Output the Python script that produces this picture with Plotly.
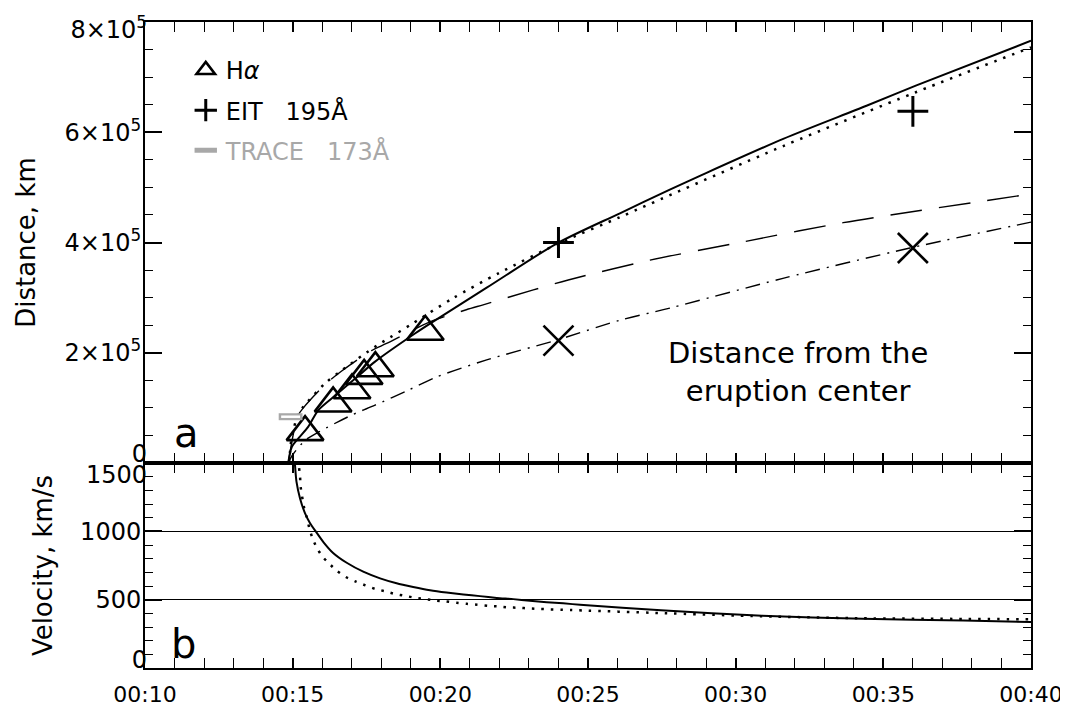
import plotly.graph_objects as go

# ---------------- data (time in minutes after 00:00 UT) ----------------
x_tick_vals = [10, 15, 20, 25, 30, 35, 40]
x_tick_text = ["00:10", "00:15", "00:20", "00:25", "00:30", "00:35", "00:40"]

d_tick_vals = [0, 2e5, 4e5, 6e5, 8e5]
d_tick_text = ["0", "2×10<sup>5</sup>", "4×10<sup>5</sup>", "6×10<sup>5</sup>", "8×10<sup>5</sup>"]
v_tick_vals = [0, 500, 1000, 1500]
v_tick_text = ["0", "500", "1000", "1500"]

# observations
ha_t = [15.42, 16.37, 17.01, 17.42, 17.80, 19.49]
ha_d = [56e3, 108e3, 132e3, 158e3, 172e3, 238e3]
eit_t = [24.0, 36.0]
eit_d = [400e3, 638e3]
trace_t = [14.93]
trace_d = [84e3]
cross_t = [24.0, 36.0]
cross_d = [222e3, 390e3]

# distance fits (panel a)
solid_t = [14.85, 14.97, 15.2, 15.53, 15.87, 16.5, 17.2, 17.79, 19.14, 19.65, 21.57,
           23.94, 26.08, 27.77, 28.79, 31.61, 34.43, 36.12, 40.0]
solid_d = [0, 29e3, 45e3, 66e3, 96e3, 125e3, 157e3, 184e3, 235e3, 253e3, 318e3,
           398e3, 453e3, 496e3, 521e3, 588e3, 648e3, 685e3, 766e3]

dotted_t = [14.88, 14.95, 15.05, 15.17, 15.36, 16.09, 16.66, 17.79, 18.12, 19.03, 20.43,
            22.0, 24.0, 26.08, 27.1, 31.61, 36.12, 40.0]
dotted_d = [0, 40e3, 65e3, 87e3, 102e3, 144e3, 168e3, 211e3, 222e3, 252e3, 299e3,
            345e3, 398e3, 446e3, 470e3, 575e3, 673e3, 754e3]

ldash_t = [14.85, 15.17, 15.36, 16.09, 16.66, 17.67, 18.18, 19.65, 20.88, 21.45, 23.15,
           24.33, 27.1, 30.14, 33.64, 40.0]
ldash_d = [0, 85e3, 100e3, 142e3, 167e3, 204e3, 217e3, 256e3, 278e3, 287e3, 314e3,
           332e3, 368e3, 400e3, 436e3, 488e3]

ddot_t = [14.85, 15.0, 15.42, 15.87, 17.0, 17.79, 18.91, 19.87, 21.57, 23.94, 26.08,
          27.77, 31.6, 35.9, 40.0]
ddot_d = [0, 15e3, 41e3, 56e3, 87e3, 105e3, 132e3, 156e3, 187e3, 223e3, 259e3,
          281e3, 335e3, 390e3, 437e3]

# velocity fits (panel b)
vsol_t = [15.06, 15.08, 15.13, 15.25, 15.42, 15.59, 15.79, 16.04, 16.37, 16.83, 17.39,
          17.96, 18.52, 19.08, 19.65, 20.21, 20.78, 21.34, 21.91, 22.47, 23.03, 23.60,
          24.16, 24.73, 27.47, 30.89, 34.3, 37.72, 40.0]
vsol_v = [1560, 1483, 1362, 1241, 1132, 1060, 997, 922, 842, 770, 705,
          656, 620, 593, 569, 552, 538, 526, 513, 504, 492, 482,
          473, 463, 423, 382, 360, 347, 337]

vdot_t = [15.17, 15.2, 15.25, 15.27, 15.38, 15.47, 15.56, 15.66, 15.81, 16.0, 16.24,
          16.51, 16.80, 17.12, 17.46, 17.79, 18.12, 18.46, 18.81, 19.16, 19.50, 19.84,
          20.19, 20.55, 20.89, 21.25, 21.61, 21.96, 22.31, 22.66, 23.01, 23.37, 23.73,
          24.08, 24.45, 27.47, 30.9, 34.3, 37.7, 40.0]
vdot_v = [1600, 1500, 1398, 1326, 1180, 1108, 1028, 956, 883, 818, 763,
          709, 666, 634, 605, 579, 562, 542, 528, 513, 504, 494,
          487, 477, 470, 463, 455, 451, 443, 441, 436, 432, 429,
          427, 424, 402, 378, 364, 359, 357]

FONT = "DejaVu Sans"
BLACK = "black"
GRAY = "#a8a8a8"
NB = "\u00a0"

fig = go.Figure()

# ---- panel a: curves
fig.add_trace(go.Scatter(x=solid_t, y=solid_d, mode="lines", xaxis="x", yaxis="y",
                         line=dict(color=BLACK, width=2, shape="spline", smoothing=0.8),
                         showlegend=False))
fig.add_trace(go.Scatter(x=dotted_t, y=dotted_d, mode="lines", xaxis="x", yaxis="y",
                         line=dict(color=BLACK, width=2.5, dash="2.5px,7px", shape="spline",
                                   smoothing=0.8), showlegend=False))
fig.add_trace(go.Scatter(x=ldash_t, y=ldash_d, mode="lines", xaxis="x", yaxis="y",
                         line=dict(color=BLACK, width=1.4, dash="32px,17px", shape="spline",
                                   smoothing=0.8), showlegend=False))
fig.add_trace(go.Scatter(x=ddot_t, y=ddot_d, mode="lines", xaxis="x", yaxis="y",
                         line=dict(color=BLACK, width=1.4, dash="15px,7px,2px,7px",
                                   shape="spline", smoothing=0.8), showlegend=False))

# ---- panel a: observations
fig.add_trace(go.Scatter(x=ha_t, y=ha_d, mode="markers", xaxis="x", yaxis="y",
                         name="H<i>α</i>", legendgroup="a",
                         marker=dict(symbol="triangle-up-open", size=32, color=BLACK,
                                     line=dict(width=2.6, color=BLACK))))
fig.add_trace(go.Scatter(x=eit_t, y=eit_d, mode="markers", xaxis="x", yaxis="y",
                         name="EIT" + NB * 3 + "195Å", legendgroup="b",
                         marker=dict(symbol="cross-thin-open", size=22, color=BLACK,
                                     line=dict(width=3, color=BLACK))))
fig.add_trace(go.Scatter(x=trace_t, y=trace_d, mode="markers", xaxis="x", yaxis="y",
                         name="<span style='color:#a8a8a8'>TRACE" + NB * 3 + "173Å</span>",
                         legendgroup="c",
                         marker=dict(symbol="line-ew-open", size=17, color=GRAY,
                                     line=dict(width=7, color=GRAY))))
fig.add_trace(go.Scatter(x=trace_t, y=trace_d, mode="markers", xaxis="x", yaxis="y",
                         showlegend=False, hoverinfo="skip",
                         marker=dict(symbol="line-ew-open", size=13.5, color="white",
                                     line=dict(width=2.5, color="white"))))
fig.add_trace(go.Scatter(x=cross_t, y=cross_d, mode="markers", xaxis="x", yaxis="y",
                         showlegend=False,
                         marker=dict(symbol="x-thin-open", size=30, color=BLACK,
                                     line=dict(width=2.6, color=BLACK))))

# ---- panel b: velocities
fig.add_trace(go.Scatter(x=vsol_t, y=vsol_v, mode="lines", xaxis="x2", yaxis="y2",
                         line=dict(color=BLACK, width=2, shape="spline", smoothing=0.6),
                         showlegend=False))
fig.add_trace(go.Scatter(x=vdot_t, y=vdot_v, mode="lines", xaxis="x2", yaxis="y2",
                         line=dict(color=BLACK, width=2.5, dash="2.5px,7px", shape="spline",
                                   smoothing=0.6), showlegend=False))

# invisible anchors so that the label-only overlay axes are created
for ax_name, xa, yv in [("y3", "x", d_tick_vals[0]), ("y4", "x", d_tick_vals[0]),
                        ("y5", "x2", v_tick_vals[0]), ("y6", "x2", v_tick_vals[0])]:
    fig.add_trace(go.Scatter(x=[x_tick_vals[0]], y=[yv], mode="markers", xaxis=xa, yaxis=ax_name,
                             marker=dict(opacity=0, size=1), showlegend=False, hoverinfo="skip"))

split = 0.3173
tickfont = dict(family=FONT, size=24, color=BLACK)
xtickfont = dict(family=FONT, size=22, color=BLACK)

common_x = dict(range=[10, 40], showline=True, linewidth=2, linecolor=BLACK, mirror="allticks",
                ticks="inside", ticklen=10, tickwidth=1.5, tickcolor=BLACK,
                tickmode="array", tickvals=x_tick_vals, ticktext=x_tick_text,
                minor=dict(dtick=1, tick0=10, ticks="inside", ticklen=5, tickwidth=1.2,
                           tickcolor=BLACK, showgrid=False),
                showgrid=False, zeroline=False, tickfont=xtickfont, automargin=False)

common_y = dict(showline=True, linewidth=2, linecolor=BLACK, mirror="allticks",
                ticks="inside", ticklen=17, tickwidth=1.5, tickcolor=BLACK,
                tickmode="array", zeroline=False, tickfont=tickfont,
                ticklabelstandoff=-3, automargin=False)


# edge tick labels are nudged inward (as in the original) with label-only overlay axes
def edge_label_axis(base, rng, val, text, shift):
    return dict(overlaying=base, anchor="x" if base == "y" else "x2", side="left", range=rng,
                tickmode="array", tickvals=[val], ticktext=[text], ticklabelshift=shift,
                ticks="", showline=False, showgrid=False, zeroline=False, tickfont=tickfont,
                ticklabelstandoff=-3, automargin=False)


d_mid_text = [""] + d_tick_text[1:-1] + [""]
v_mid_text = [""] + v_tick_text[1:-1] + [""]

fig.update_layout(
    width=1068, height=709,
    margin=dict(l=137, r=45, t=14, b=49),
    paper_bgcolor="white", plot_bgcolor="white",
    font=dict(family=FONT, size=22, color=BLACK),
    xaxis=dict(common_x, anchor="y", domain=[0, 1], showticklabels=False),
    xaxis2=dict(common_x, anchor="y2", domain=[0, 1], ticklabelstandoff=6),
    yaxis=dict(common_y, domain=[split, 1], anchor="x", range=[0, 8e5],
               tickvals=d_tick_vals, ticktext=d_mid_text,
               minor=dict(dtick=5e4, tick0=0, ticks="inside", ticklen=8, tickwidth=1.2,
                          tickcolor=BLACK, showgrid=False),
               showgrid=False,
               title=dict(text="Distance, km", font=dict(family=FONT, size=26), standoff=21)),
    yaxis2=dict(common_y, domain=[0, split], anchor="x2", range=[0, 1500],
                tickvals=v_tick_vals, ticktext=v_mid_text,
                minor=dict(dtick=100, tick0=0, ticks="inside", ticklen=8, tickwidth=1.2,
                           tickcolor=BLACK, showgrid=False),
                showgrid=True, gridcolor=BLACK, gridwidth=1,
                title=dict(text="Velocity, km/s", font=dict(family=FONT, size=26), standoff=20)),
    yaxis3=edge_label_axis("y", [0, 8e5], d_tick_vals[-1], d_tick_text[-1], 8),
    yaxis4=edge_label_axis("y", [0, 8e5], d_tick_vals[0], d_tick_text[0], -9),
    yaxis5=edge_label_axis("y2", [0, 1500], v_tick_vals[-1], v_tick_text[-1], 12),
    yaxis6=edge_label_axis("y2", [0, 1500], v_tick_vals[0], v_tick_text[0], -8),
    legend=dict(x=0.046, y=0.96, xanchor="left", yanchor="top",
                bgcolor="rgba(0,0,0,0)", borderwidth=0,
                font=dict(family=FONT, size=24, color=BLACK),
                traceorder="grouped", tracegroupgap=6, itemsizing="trace"),
    showlegend=True,
    annotations=[
        dict(text="Distance from the<br>eruption center", x=32.1, y=165e3, xref="x", yref="y",
             showarrow=False, font=dict(family=FONT, size=29, color=BLACK), align="center"),
        dict(text="a", x=0.0465, y=0.364, xref="paper", yref="paper", showarrow=False,
             xanchor="center", yanchor="middle",
             font=dict(family=FONT, size=40, color=BLACK)),
        dict(text="b", x=0.044, y=0.037, xref="paper", yref="paper", showarrow=False,
             xanchor="center", yanchor="middle",
             font=dict(family=FONT, size=40, color=BLACK)),
    ],
)

fig.write_html("out.html")
